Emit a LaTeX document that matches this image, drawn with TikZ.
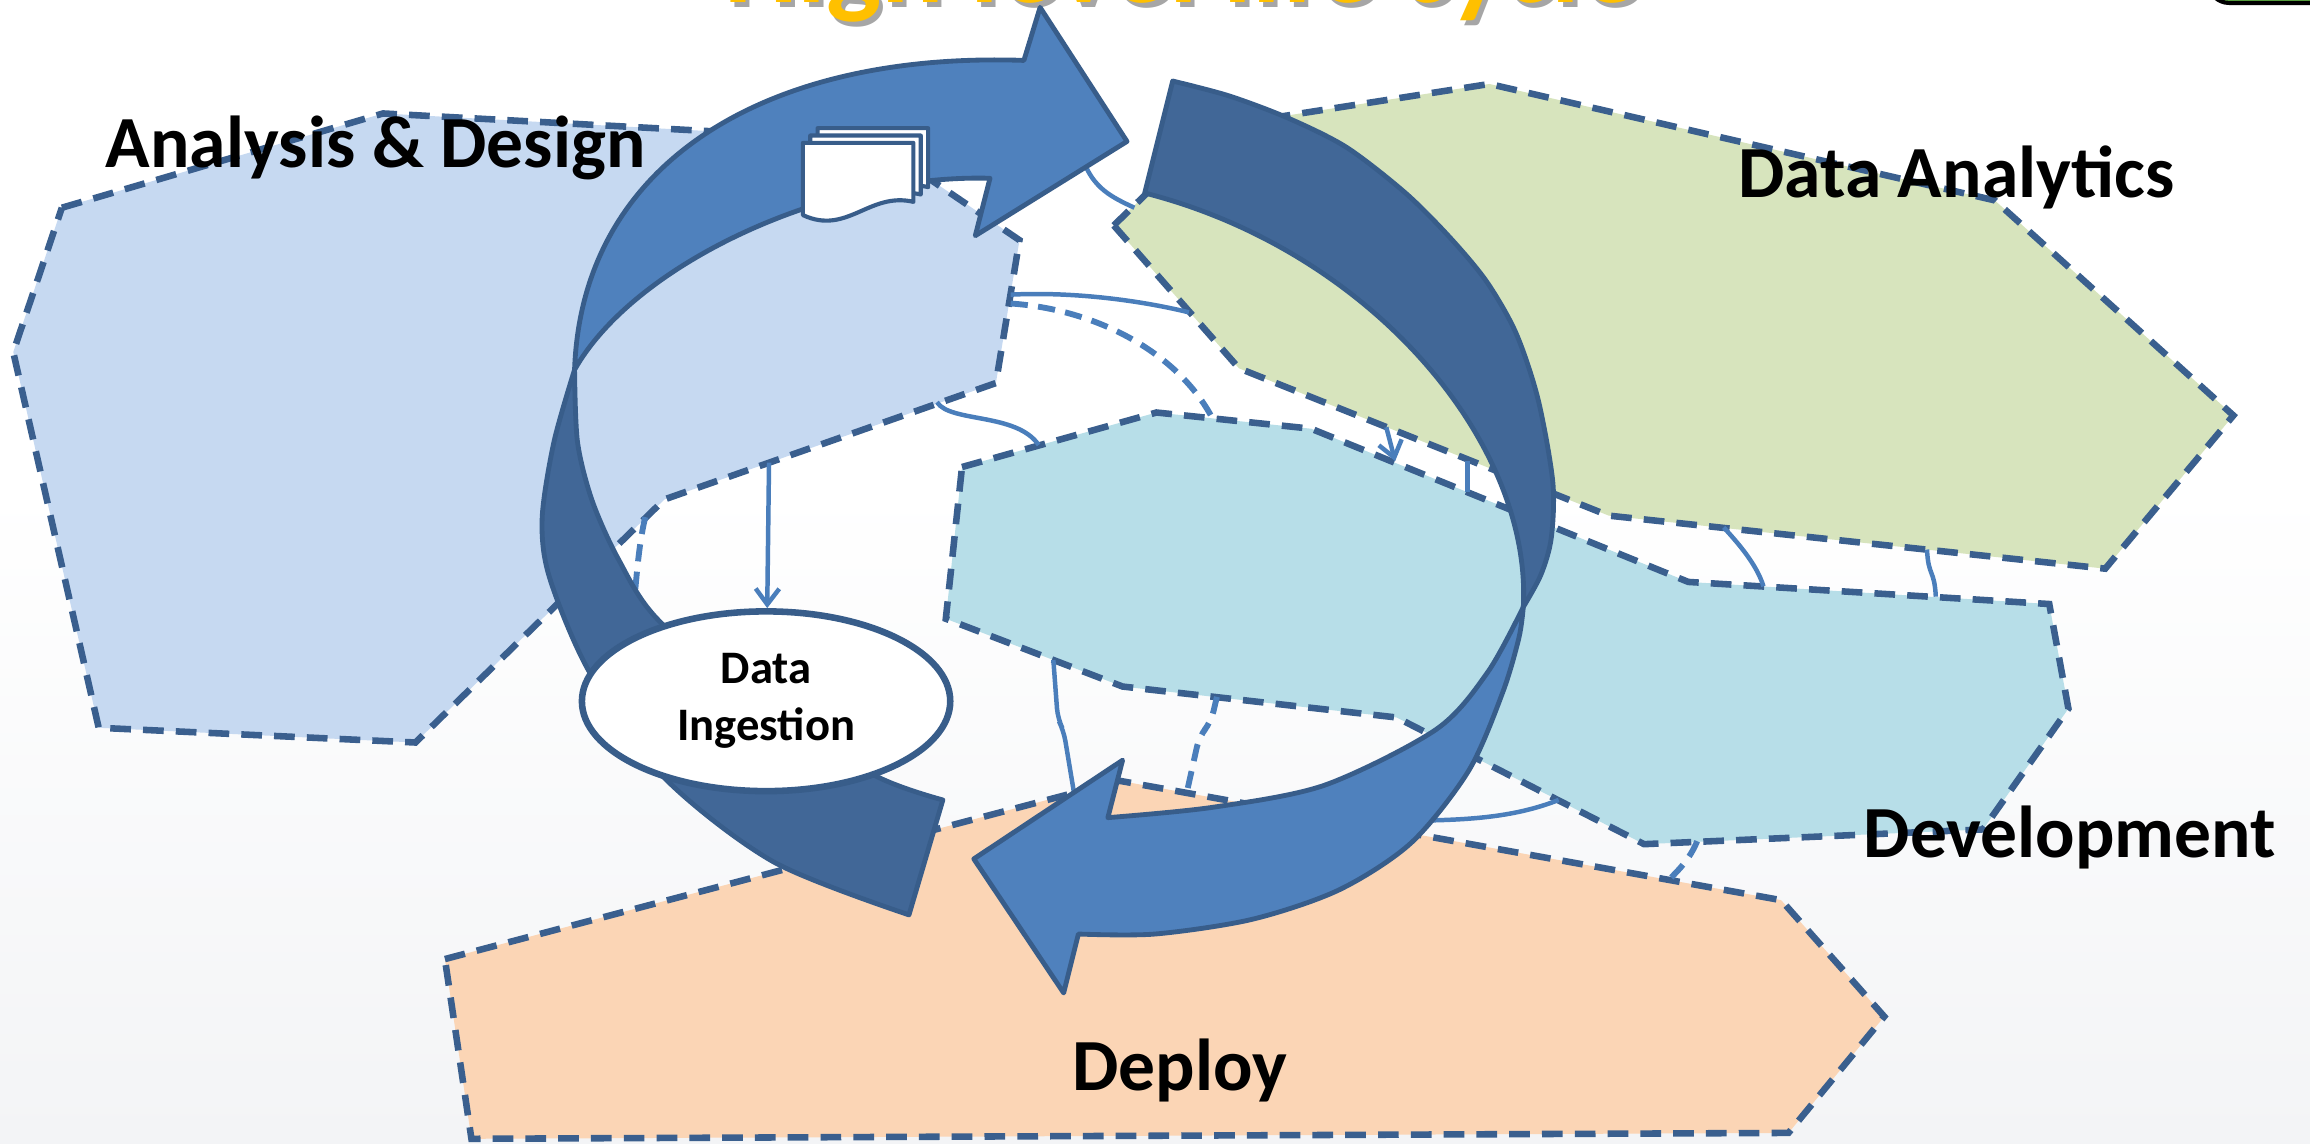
\documentclass[tikz,border=0pt]{standalone}
\usepackage{fontspec}
\setmainfont{Carlito}
\usepackage{tikz}
\usetikzlibrary{arrows.meta,shapes.geometric}
\definecolor{cycleblue}{HTML}{4F81BD}
\definecolor{cycledark}{HTML}{416797}
\definecolor{cycleedge}{HTML}{385D8A}
\definecolor{dashblue}{HTML}{3A5F8E}
\definecolor{linkblue}{HTML}{4A7EBB}
\definecolor{designfill}{HTML}{C6D9F1}
\definecolor{analyticsfill}{HTML}{D7E4BD}
\definecolor{devfill}{HTML}{B7DEE8}
\definecolor{deployfill}{HTML}{FBD5B5}
\definecolor{titleyellow}{HTML}{FFC000}
\definecolor{titleshade}{HTML}{A6A6A6}
\definecolor{logogreen}{HTML}{62B346}
\definecolor{cityfaint}{HTML}{F3F4F6}
\tikzset{
  phase/.style={
    draw=dashblue,
    line width=1.9pt,
    dash pattern=on 6pt off 3.5pt
  },
  phaselabel/.style={
    anchor=base,
    inner sep=0pt,
    font=\fontsize{21.3}{25}\selectfont\bfseries
  },
  titletext/.style={
    anchor=base,
    inner sep=0pt,
    text=titleyellow,
    font=\fontsize{33.7}{38}\selectfont\bfseries
  },
  cyclefront/.style={
    fill=cycleblue,
    draw=cycleedge,
    line width=1.4pt,
    line join=round
  },
  cycleback/.style={
    cyclefront,
    fill=cycledark
  },
  ingestion/.style={
    ellipse,
    draw=cycleedge,
    fill=white,
    line width=1.9pt,
    minimum width=3.75cm,
    minimum height=1.83cm,
    inner sep=0pt,
    align=center,
    font=\fontsize{13.5}{16.5}\selectfont\bfseries
  },
  docsheet/.style={
    fill=white,
    draw=cycleedge,
    line width=1.2pt,
    line join=round
  },
  link/.style={
    draw=linkblue,
    line width=1.3pt
  },
  linkdash/.style={
    link,
    line width=1.7pt,
    dash pattern=on 5pt off 3pt
  },
  linkarrow/.style={
    link,
    -{Straight Barb[length=1.6mm,width=2.4mm]}
  }
}

\begin{document}
\begin{tikzpicture}[x=0.015cm, y=-0.015cm]
    \useasboundingbox (0,0) rectangle (1568,776);
    \clip (0,0) rectangle (1568,776);
    \shade[top color=white, bottom color=cityfaint] (0,330) rectangle (1568,776);

    \node[titletext, text=titleshade] (titleshadow) at (805,5) {High level life cycle};
    \node[titletext] (title) at (802,2) {High level life cycle};
    \filldraw[draw=black, line width=1.2pt, fill=logogreen, rounded corners=6pt] (1499,-40) rectangle (1600,2);

    % the four phases
    \filldraw[phase, fill=designfill] (42,141) -- (260,77) -- (592,95) -- (692,163) -- (676,260)
        -- (451,339) -- (282,504) -- (67,494) -- (9,239) -- cycle;
    \filldraw[phase, fill=analyticsfill] (756,153) -- (825,86) -- (1011,57) -- (1354,136)
        -- (1516,282) -- (1429,386) -- (1092,350) -- (841,250) -- cycle;
    \filldraw[phase, fill=devfill] (653,317) -- (785,280) -- (890,291) -- (1146,395) -- (1391,410)
        -- (1404,481) -- (1346,563) -- (1116,573) -- (948,487) -- (762,466) -- (642,420) -- cycle;
    \filldraw[phase, fill=deployfill] (302,651) -- (760,530) -- (1209,611) -- (1279,690)
        -- (1214,769) -- (320,773) -- cycle;

    % connector ends on the phase borders
    \coordinate (design-s) at (522,314);
    \coordinate (design-e1) at (686,200);
    \coordinate (design-e2) at (686,206);
    \coordinate (design-se) at (636,273);
    \coordinate (design-sw) at (438,351);
    \coordinate (cyclehead) at (735,108);
    \coordinate (analytics-w) at (807,212);
    \coordinate (analytics-nw) at (770,141);
    \coordinate (analytics-s1) at (941,290);
    \coordinate (analytics-s2) at (996,313);
    \coordinate (analytics-s3) at (1170,358);
    \coordinate (analytics-s4) at (1308,373);
    \coordinate (dev-n0) at (705,302);
    \coordinate (dev-n1) at (823,284);
    \coordinate (dev-n2) at (947,313);
    \coordinate (dev-n3) at (996,334);
    \coordinate (dev-n4) at (1197,398);
    \coordinate (dev-n5) at (1314,405);
    \coordinate (dev-sw) at (715,448);
    \coordinate (dev-s1) at (826,473);
    \coordinate (dev-s2) at (1058,543);
    \coordinate (dev-s3) at (1152,571);
    \coordinate (deploy-n1) at (729,538);
    \coordinate (deploy-n2) at (806,536);
    \coordinate (deploy-n3) at (1133,597);
    \coordinate (bandleft) at (430,412);
    \coordinate (bandlow) at (955,557);

    \draw[link] (design-e1) .. controls (725,198) and (770,203) .. (analytics-w);
    \draw[linkdash] (design-e2) .. controls (745,210) and (800,240) .. (dev-n1);
    \draw[link] (design-se) .. controls (645,287) and (690,280) .. (dev-n0);
    \draw[linkdash] (design-sw) .. controls (433,372) and (432,395) .. (bandleft);
    \draw[link] (cyclehead) .. controls (742,128) and (755,134) .. (analytics-nw);
    \draw[linkarrow] (analytics-s1) -- (dev-n2);
    \draw[link] (analytics-s2) -- (dev-n3);
    \draw[link] (analytics-s3) .. controls (1183,372) and (1193,385) .. (dev-n4);
    \draw[link] (analytics-s4) .. controls (1309,392) and (1313,386) .. (dev-n5);
    \draw[link, rounded corners=3pt] (dev-sw) -- (718,488) -- (722,496) -- (deploy-n1);
    \draw[linkdash, rounded corners=3pt] (dev-s1) -- (822,490) -- (814,500) -- (deploy-n2);
    \draw[link] (dev-s2) .. controls (1030,554) and (1000,557) .. (bandlow);
    \draw[linkdash] (dev-s3) .. controls (1147,583) and (1140,590) .. (deploy-n3);

    % upper cycle arrow
    \filldraw[cycleback] plot[smooth] coordinates {(390,251) (376,300) (368,352) (373,392)
        (400,456) (450,527) (525,585) (617,621)} -- (640,543)
        -- plot[smooth] coordinates {(640,543) (595,527) (520,482) (447,421) (420,380)
        (402,340) (392,300) (390,251)} -- cycle;
    \filldraw[cyclefront] (390,251) .. controls (395,110) and (520,35) .. (695,41)
        -- (706,5) -- (765,96) -- (662,160) -- (672,121)
        .. controls (560,118) and (430,180) .. (390,251) -- cycle;

    % lower cycle arrow
    \filldraw[cycleback] (796,55) -- plot[smooth] coordinates {(796,55) (834,65) (874,80)
        (914,100) (954,131) (984,161) (1009,191) (1029,226) (1044,271) (1054,327) (1053,365)
        (1046,390) (1034,412)}
        .. controls (1040,300) and (930,170) .. (777,131) -- cycle;
    \filldraw[cyclefront] plot[smooth] coordinates {(1034,412) (1031,433) (1020,470) (997,523)
        (958,572) (909,604) (850,624) (784,634) (732,634)} -- (722,674) -- (661,583)
        -- (762,516) -- (752,555)
        -- plot[smooth] coordinates {(752,555) (823,548) (899,533) (975,495) (1010,456)
        (1034,412)} -- cycle;

    % stacked documents
    \foreach \d in {10,5,0}
        \filldraw[docsheet, shift={(\d,-\d)}] (545,97) -- (620,97) -- (620,137)
            .. controls (590,130) and (575,160) .. (545,146) -- cycle;

    \node[ingestion] (ingest) at (520,476) {Data\\Ingestion};
    \draw[linkarrow] (design-s) -- (ingest);

    \node[phaselabel] (design) at (255,114) {Analysis \& Design};
    \node[phaselabel] (analytics) at (1328,134) {Data Analytics};
    \node[phaselabel] (dev) at (1405,582) {Development};
    \node[phaselabel] (deploy) at (801,740) {Deploy};
\end{tikzpicture}
\end{document}
